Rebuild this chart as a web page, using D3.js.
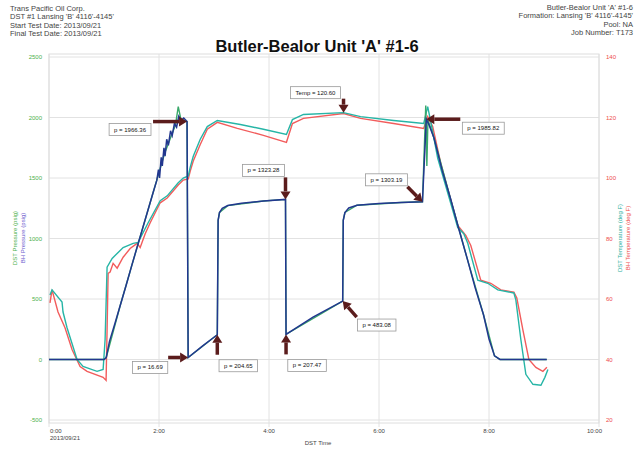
<!DOCTYPE html>
<html>
<head>
<meta charset="utf-8">
<script src="https://cdn.jsdelivr.net/npm/d3@7"></script>
<style>
  body { margin: 0; background: #fff; }
  text { font-family: "Liberation Sans", Arial, sans-serif; }
</style>
</head>
<body>
<div id="chart"></div>
<script>
// Size of the page
const width = 636;
const height = 451;

// Header texts
const headerLeft = ["Trans Pacific Oil Corp.", "DST #1 Lansing 'B' 4116'-4145'", "Start Test Date: 2013/09/21", "Final Test Date: 2013/09/21"];
const headerRight = ["Butler-Bealor Unit 'A' #1-6", "Formation: Lansing 'B' 4116'-4145'", "Pool: NA", "Job Number: T173"];
const title = "Butler-Bealor Unit 'A' #1-6";

// Axis ticks
const timeTicks = [0, 2, 4, 6, 8, 10];
const timeLabels = ["0:00", "2:00", "4:00", "6:00", "8:00", "10:00"];
const pressTicks = [-500, 0, 500, 1000, 1500, 2000, 2500];
const tempTicks = [20, 40, 60, 80, 100, 120, 140];

// Pressure gauge 1 (dark blue), hours / psig
const pressTime = [0, 0.5, 1.0, 1.04, 1.1, 1.2, 1.3, 1.4, 1.5, 1.6, 1.7, 1.8, 1.9, 1.96, 1.99, 2.01, 2.04, 2.06, 2.09, 2.11, 2.14, 2.17, 2.21, 2.24, 2.28, 2.32, 2.36, 2.40, 2.45, 2.51, 2.53, 2.8, 3.06, 3.075, 3.1, 3.15, 3.25, 3.5, 3.9, 4.30, 4.31, 4.8, 5.34, 5.35, 5.38, 5.45, 5.6, 6.0, 6.4, 6.79, 6.86, 6.9, 7.0, 7.15, 7.3, 7.45, 7.6, 7.75, 7.9, 8.0, 8.1, 8.2, 9.05];
const pressVal = [0, 0, 0, 15, 150, 300, 455, 610, 770, 925, 1080, 1235, 1390, 1480, 1570, 1500, 1670, 1600, 1750, 1680, 1820, 1770, 1890, 1850, 1950, 1920, 2010, 1975, 1995, 1966.36, 16.69, 115, 204.65, 1150, 1215, 1250, 1272, 1292, 1310, 1323.28, 207.47, 350, 483.08, 1150, 1215, 1252, 1275, 1290, 1298, 1303.19, 1985.82, 1950, 1830, 1560, 1330, 1080, 840, 590, 370, 170, 30, 0, 0];

// Pressure gauge 2 (green), hours / psig
const press2Time = [0, 1.0, 1.04, 1.3, 1.6, 1.9, 2.1, 2.3, 2.35, 2.4, 2.51, 2.53, 3.06, 3.075, 3.1, 3.25, 3.9, 4.30, 4.31, 5.34, 5.35, 5.38, 5.6, 6.4, 6.79, 6.85, 6.87, 6.89, 7.0, 7.3, 7.6, 7.9, 8.1, 8.2, 9.05];
const press2Val = [0, 0, 15, 455, 925, 1390, 1700, 1940, 2090, 1980, 1966, 16.69, 204.65, 1150, 1215, 1272, 1310, 1323.28, 207.47, 483.08, 1150, 1215, 1275, 1298, 1303.19, 2100, 1600, 1980, 1830, 1330, 840, 370, 30, 0, 0];

// Temperature gauge 1 (teal), hours / deg F
const tempTime = [0.018, 0.055, 0.237, 0.255, 0.328, 0.51, 0.619, 0.874, 0.984, 1.02, 1.056, 1.148, 1.257, 1.348, 1.53, 1.621, 1.712, 1.803, 2.022, 2.149, 2.35, 2.441, 2.532, 2.568, 2.623, 2.75, 2.878, 3.06, 3.479, 3.898, 4.317, 4.426, 4.627, 5.355, 5.665, 6.266, 6.812, 6.885, 6.94, 7.067, 7.432, 7.541, 7.614, 7.796, 7.978, 8.16, 8.452, 8.488, 8.579, 8.67, 8.798, 8.944, 9.016, 9.071];
const tempVal = [61.3, 63.0, 59.0, 55.7, 50.5, 40.0, 37.7, 36.1, 36.7, 46.6, 70.5, 73.4, 75.4, 77.0, 78.4, 78.7, 82.0, 85.2, 92.5, 94.1, 98.4, 100.0, 100.7, 103.6, 107.2, 112.8, 117.0, 119.0, 117.7, 116.1, 114.4, 119.3, 121.0, 121.6, 120.3, 119.0, 118.0, 123.6, 118.7, 106.6, 83.6, 81.6, 78.4, 66.2, 65.2, 63.0, 62.0, 59.7, 46.6, 35.1, 31.8, 31.5, 34.1, 36.7];

// Temperature gauge 2 (red), hours / deg F
const temp2Time = [0.018, 0.055, 0.164, 0.291, 0.419, 0.565, 0.692, 0.984, 1.038, 1.056, 1.075, 1.111, 1.166, 1.239, 1.348, 1.475, 1.603, 1.658, 1.749, 1.84, 2.022, 2.149, 2.35, 2.441, 2.532, 2.568, 2.623, 2.75, 2.878, 3.06, 3.424, 3.898, 4.317, 4.426, 4.627, 5.355, 5.665, 6.266, 6.812, 6.885, 6.976, 7.122, 7.432, 7.578, 7.669, 7.85, 8.033, 8.215, 8.452, 8.506, 8.616, 8.725, 8.852, 8.98, 9.053];
const temp2Val = [58.7, 63.0, 55.7, 50.5, 43.3, 37.7, 36.1, 34.1, 33.1, 49.8, 68.5, 68.9, 71.8, 70.2, 73.8, 76.7, 78.4, 77.0, 81.6, 85.2, 91.8, 93.4, 97.7, 99.3, 99.7, 102.3, 105.6, 111.1, 116.1, 118.4, 116.4, 114.1, 111.8, 118.0, 119.7, 121.3, 119.7, 118.0, 116.4, 120.3, 117.0, 104.9, 84.3, 81.0, 77.7, 66.2, 65.2, 63.0, 62.3, 60.3, 49.8, 40.0, 37.4, 36.1, 37.4];

// Call-outs: text, time, value, which axis
const annoText = ["p = 1966.36", "p = 16.69", "p = 204.65", "p = 1323.28", "p = 207.47", "p = 483.08", "Temp = 120.60", "p = 1303.19", "p = 1985.82"];
const annoTime = [2.51, 2.53, 3.06, 4.30, 4.31, 5.34, 5.355, 6.79, 6.86];
const annoVal = [1966.36, 16.69, 204.65, 1323.28, 207.47, 483.08, 121.6, 1303.19, 1985.82];
const annoAxis = ["p", "p", "p", "p", "p", "p", "t", "p", "p"];

// Call-out layout (pixel offsets from the arrow tip)
const annoLayout = [
  { tail: [-34, 0], box: [-57, 8] },
  { tail: [-20, 0], box: [-38, 10] },
  { tail: [0, 20], box: [21, 31] },
  { tail: [0, -22], box: [-22, -29] },
  { tail: [0, 20], box: [21, 31] },
  { tail: [14, 16], box: [34, 24] },
  { tail: [0, -14], box: [-28, -20] },
  { tail: [-15, -15], box: [-36, -22] },
  { tail: [34, 0], box: [57, 9] }
];

// Plot area
const plot = { left: 49, right: 599, top: 54, bottom: 423 };

const x = d3.scaleLinear().domain([0, 10]).range([plot.left, plot.right]);
const yP = d3.scaleLinear().domain([-500, 2500]).range([420, 57]);
const yT = d3.scaleLinear().domain([20, 140]).range([420, 57]);

const svg = d3.select("#chart")
  .append("svg")
  .attr("width", width)
  .attr("height", height)
  .style("background-color", "#fff");

svg.append("defs").append("clipPath")
  .attr("id", "clip")
  .append("rect")
  .attr("x", plot.left)
  .attr("y", plot.top)
  .attr("width", plot.right - plot.left)
  .attr("height", plot.bottom - plot.top);

// Header
svg.append("g").selectAll("text")
  .data(headerLeft)
  .join("text")
  .attr("x", 10)
  .attr("y", (d, i) => 11 + i * 8.4)
  .style("font-size", "7.5px")
  .style("fill", "#444")
  .text(d => d);

svg.append("g").selectAll("text")
  .data(headerRight)
  .join("text")
  .attr("x", 633)
  .attr("y", (d, i) => 10 + i * 8.4)
  .attr("text-anchor", "end")
  .style("font-size", "7.5px")
  .style("fill", "#444")
  .text(d => d);

svg.append("text")
  .attr("x", 317)
  .attr("y", 52)
  .attr("text-anchor", "middle")
  .style("font-size", "16.5px")
  .style("font-weight", "bold")
  .style("fill", "#111")
  .text(title);

// Grid
svg.append("g").selectAll("line")
  .data(pressTicks)
  .join("line")
  .attr("x1", plot.left).attr("x2", plot.right)
  .attr("y1", d => yP(d)).attr("y2", d => yP(d))
  .attr("stroke", "#e2e2e2").attr("stroke-width", 1);

svg.append("g").selectAll("line")
  .data(timeTicks)
  .join("line")
  .attr("x1", d => x(d)).attr("x2", d => x(d))
  .attr("y1", plot.top).attr("y2", plot.bottom + 4)
  .attr("stroke", "#e2e2e2").attr("stroke-width", 1);

// Frame
svg.append("rect")
  .attr("x", plot.left).attr("y", plot.top)
  .attr("width", plot.right - plot.left)
  .attr("height", plot.bottom - plot.top)
  .attr("fill", "none")
  .attr("stroke", "#dedede");

// Left ticks
svg.append("g").selectAll("text")
  .data(pressTicks)
  .join("text")
  .attr("x", 42)
  .attr("y", d => yP(d) + 2)
  .attr("text-anchor", "end")
  .style("font-size", "6px")
  .style("fill", "#4cb04c")
  .text(d => d);

// Right ticks
svg.append("g").selectAll("text")
  .data(tempTicks)
  .join("text")
  .attr("x", 606)
  .attr("y", d => yT(d) + 2)
  .style("font-size", "6px")
  .style("fill", "#ee4b4b")
  .text(d => d);

// Bottom ticks
svg.append("g").selectAll("text")
  .data(timeTicks)
  .join("text")
  .attr("x", (d, i) => i === 0 ? x(d) + 1 : i === timeTicks.length - 1 ? x(d) + 3 : x(d))
  .attr("y", 433)
  .attr("text-anchor", (d, i) => i === 0 ? "start" : i === timeTicks.length - 1 ? "end" : "middle")
  .style("font-size", "6px")
  .style("fill", "#444")
  .text((d, i) => timeLabels[i]);

svg.append("text")
  .attr("x", x(0) + 1).attr("y", 440)
  .style("font-size", "6px").style("fill", "#444")
  .text("2013/09/21");

svg.append("text")
  .attr("x", 318).attr("y", 445)
  .attr("text-anchor", "middle")
  .style("font-size", "6px").style("fill", "#444")
  .text("DST Time");

// Axis titles
const axisTitle = (tx, ty, txt, color) => svg.append("text")
  .attr("transform", `translate(${tx},${ty}) rotate(-90)`)
  .attr("text-anchor", "middle")
  .style("font-size", "6px")
  .style("fill", color)
  .text(txt);

axisTitle(17, 238, "DST Pressure (psig)", "#4cb04c");
axisTitle(25, 238, "BH Pressure (psig)", "#6a5acd");
axisTitle(622, 238, "DST Temperature (deg F)", "#2ab0a0");
axisTitle(630, 238, "BH Temperature (deg F)", "#ee4b4b");

// Lines
const series = (times, vals) => times.map((t, i) => [t, vals[i]]);
const lineP = d3.line().x(d => x(d[0])).y(d => yP(d[1]));
const lineT = d3.line().x(d => x(d[0])).y(d => yT(d[1]));

const lines = svg.append("g").attr("clip-path", "url(#clip)");

lines.append("path")
  .datum(series(temp2Time, temp2Val))
  .attr("d", lineT)
  .attr("fill", "none").attr("stroke", "#f25c5c").attr("stroke-width", 1.4);

lines.append("path")
  .datum(series(tempTime, tempVal))
  .attr("d", lineT)
  .attr("fill", "none").attr("stroke", "#26b5a6").attr("stroke-width", 1.4);

lines.append("path")
  .datum(series(press2Time, press2Val))
  .attr("d", lineP)
  .attr("fill", "none").attr("stroke", "#3aa86a").attr("stroke-width", 1.4);

lines.append("path")
  .datum(series(pressTime, pressVal))
  .attr("d", lineP)
  .attr("fill", "none").attr("stroke", "#22378f").attr("stroke-width", 1.5);

// Call-outs
const arrowColor = "#5b1c1c";
const anno = svg.append("g");

annoText.forEach((txt, i) => {
  const tipX = x(annoTime[i]);
  const tipY = annoAxis[i] === "p" ? yP(annoVal[i]) : yT(annoVal[i]);
  const lay = annoLayout[i];
  const tailX = tipX + lay.tail[0];
  const tailY = tipY + lay.tail[1];
  const ang = Math.atan2(tipY - tailY, tipX - tailX);
  const headLen = 8, headW = 5;
  const baseX = tipX - headLen * Math.cos(ang);
  const baseY = tipY - headLen * Math.sin(ang);

  anno.append("line")
    .attr("x1", tailX).attr("y1", tailY)
    .attr("x2", baseX).attr("y2", baseY)
    .attr("stroke", arrowColor).attr("stroke-width", 3.5);

  const px = -Math.sin(ang) * headW, py = Math.cos(ang) * headW;
  anno.append("path")
    .attr("d", `M${tipX},${tipY}L${baseX + px},${baseY + py}L${baseX - px},${baseY - py}Z`)
    .attr("fill", arrowColor);

  const cx = tipX + lay.box[0];
  const cy = tipY + lay.box[1];
  const label = anno.append("text")
    .attr("x", cx).attr("y", cy + 2)
    .attr("text-anchor", "middle")
    .style("font-size", "6px")
    .style("fill", "#111")
    .text(txt);
  const w = label.node().getComputedTextLength() + 10;
  anno.insert("rect", "text:last-child")
    .attr("x", cx - w / 2).attr("y", cy - 6)
    .attr("width", w).attr("height", 12)
    .attr("fill", "#fff")
    .attr("stroke", "#9a9a9a")
    .attr("stroke-width", 0.8);
  label.raise();
});
</script>
</body>
</html>
